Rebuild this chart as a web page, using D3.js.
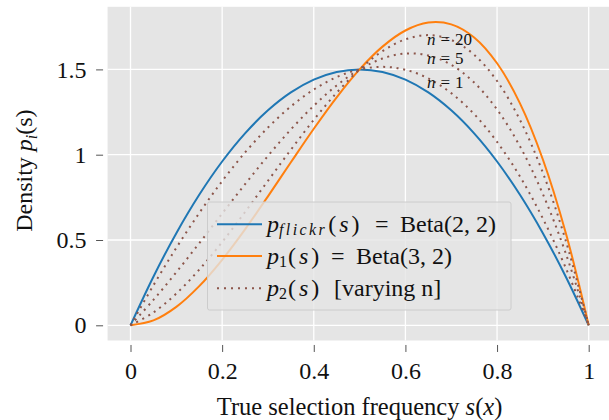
<!DOCTYPE html>
<html>
<head>
<meta charset="utf-8">
<script src="https://cdn.jsdelivr.net/npm/d3@7"></script>
<style>
  body { margin: 0; background: #fff; }
  svg text { font-family: "Liberation Serif", serif; fill: #111; }
</style>
</head>
<body>
<div class="chart"></div>
<script>
// sample positions along s
var sValues = [0, 0.05, 0.1, 0.15, 0.2, 0.25, 0.3, 0.35, 0.4, 0.45, 0.5,
               0.55, 0.6, 0.65, 0.7, 0.75, 0.8, 0.85, 0.9, 0.95, 1];

// p_flickr(s) = Beta(2,2)
var flickr = [0, 0.285, 0.54, 0.765, 0.96, 1.125, 1.26, 1.365, 1.44, 1.485, 1.5,
              1.485, 1.44, 1.365, 1.26, 1.125, 0.96, 0.765, 0.54, 0.285, 0];
// p_1(s) = Beta(3,2)
var p1 = [0, 0.0285, 0.108, 0.2295, 0.384, 0.5625, 0.756, 0.9555, 1.152, 1.3365, 1.5,
          1.6335, 1.728, 1.7745, 1.764, 1.6875, 1.536, 1.3005, 0.972, 0.5415, 0];
// p_2(s) for varying n
var p2n1 = [0, 0.234, 0.454, 0.658, 0.845, 1.013, 1.159, 1.283, 1.382, 1.455, 1.5,
            1.515, 1.498, 1.447, 1.361, 1.238, 1.075, 0.872, 0.626, 0.336, 0];
var p2n5 = [0, 0.149, 0.311, 0.481, 0.655, 0.827, 0.993, 1.148, 1.287, 1.406, 1.5,
            1.564, 1.593, 1.582, 1.527, 1.423, 1.265, 1.049, 0.769, 0.421, 0];
var p2n20 = [0, 0.075, 0.186, 0.326, 0.488, 0.664, 0.847, 1.029, 1.204, 1.363, 1.5,
             1.607, 1.676, 1.701, 1.673, 1.586, 1.432, 1.204, 0.894, 0.495, 0];

var xTicks = [0, 0.2, 0.4, 0.6, 0.8, 1];
var yTicks = [0, 0.5, 1, 1.5];

var nLabels = ["20", "5", "1"];
var nLabelY = [1.68, 1.565, 1.425];
var nLabelX = 0.647;

var width = 609, height = 420;

var x = d3.scaleLinear().domain([0, 1]).range([130.5, 588.7]);
var y = d3.scaleLinear().domain([0, 1.5]).range([325.3, 69.4]);

var svg = d3.select(".chart").append("svg")
    .attr("width", width)
    .attr("height", height);

// panel background
var x0 = x(-0.05), x1 = x(1.05), y0 = y(-0.089), y1 = y(1.867);
svg.append("rect")
    .attr("x", x0).attr("y", y1)
    .attr("width", x1 - x0).attr("height", y0 - y1)
    .attr("fill", "#e5e5e5");

// grid
svg.selectAll(".vgrid").data(xTicks).enter().append("line")
    .attr("x1", function (d) { return x(d); }).attr("x2", function (d) { return x(d); })
    .attr("y1", y1).attr("y2", y0)
    .attr("stroke", "#fff").attr("stroke-width", 1.3);
svg.selectAll(".hgrid").data(yTicks).enter().append("line")
    .attr("y1", function (d) { return y(d); }).attr("y2", function (d) { return y(d); })
    .attr("x1", x0).attr("x2", x1)
    .attr("stroke", "#fff").attr("stroke-width", 1.3);

// axes
var xAxis = svg.append("g")
    .attr("transform", "translate(0," + (y0 + 4.5) + ")")
    .call(d3.axisBottom(x).tickValues(xTicks).tickSize(7).tickPadding(10)
        .tickFormat(function (d) { return d.toString(); }));
var yAxis = svg.append("g")
    .attr("transform", "translate(" + (x0 - 4.5) + ",0)")
    .call(d3.axisLeft(y).tickValues(yTicks).tickSize(7).tickPadding(9.5)
        .tickFormat(function (d) { return d.toString(); }));
[xAxis, yAxis].forEach(function (g) {
    g.attr("font-family", null);
    g.select(".domain").remove();
    g.selectAll(".tick line").attr("stroke", "#555");
    g.selectAll(".tick text")
        .style("font-size", "24px").attr("fill", "#111");
});

// curves
var line = d3.line()
    .x(function (d, i) { return x(sValues[i]); })
    .y(function (d) { return y(d); })
    .curve(d3.curveCatmullRom.alpha(0.5));

svg.append("path").datum(flickr).attr("d", line)
    .attr("fill", "none").attr("stroke", "#1f77b4").attr("stroke-width", 2);
svg.append("path").datum(p1).attr("d", line)
    .attr("fill", "none").attr("stroke", "#ff7f0e").attr("stroke-width", 2);
[p2n1, p2n5, p2n20].forEach(function (s) {
    svg.append("path").datum(s).attr("d", line)
        .attr("fill", "none").attr("stroke", "#8c564b").attr("stroke-width", 2)
        .attr("stroke-dasharray", "2,4.7");
});

// n labels
nLabels.forEach(function (t, i) {
    var txt = svg.append("text")
        .attr("x", x(nLabelX)).attr("y", y(nLabelY[i]))
        .attr("dominant-baseline", "central")
        .style("font-size", "17px");
    txt.append("tspan").attr("font-style", "italic").text("n");
    txt.append("tspan").attr("dx", 5).text("=");
    txt.append("tspan").attr("dx", 5).text(t);
});

// legend
var lg = svg.append("g");
lg.append("rect")
    .attr("x", 207.5).attr("y", 202).attr("width", 303.5).attr("height", 108)
    .attr("rx", 2)
    .attr("fill", "#e5e5e5").attr("fill-opacity", 0.8)
    .attr("stroke", "#cccccc").attr("stroke-width", 1);

var rows = [
    { color: "#1f77b4", dash: null, y: 224.3 },
    { color: "#ff7f0e", dash: null, y: 256 },
    { color: "#8c564b", dash: "2,5", y: 288.3 }
];
rows.forEach(function (r) {
    lg.append("line")
        .attr("x1", 217).attr("x2", 262).attr("y1", r.y).attr("y2", r.y)
        .attr("stroke", r.color).attr("stroke-width", 2)
        .attr("stroke-dasharray", r.dash);
});

function legendText(yPos) {
    return lg.append("text").attr("y", yPos)
        .attr("dominant-baseline", "central").style("font-size", "24px");
}
function mathStart(t, sub, subItalic, subSpacing) {
    t.append("tspan").attr("x", 267).attr("font-style", "italic").text("p");
    t.append("tspan").attr("x", 279).attr("dy", 5)
        .attr("font-style", subItalic ? "italic" : null)
        .attr("font-size", "16px").attr("letter-spacing", subSpacing)
        .text(sub);
    t.append("tspan").attr("dy", -5).attr("dx", 1).text("(");
    t.append("tspan").attr("dx", 3).attr("font-style", "italic").text("s");
    t.append("tspan").attr("dx", 3).text(")");
}
var t1 = legendText(rows[0].y);
mathStart(t1, "flickr", true, "2.4px");
t1.append("tspan").attr("x", 375).text("=");
t1.append("tspan").attr("x", 400).text("Beta(2, 2)");

var t2 = legendText(rows[1].y);
mathStart(t2, "1", false, null);
t2.append("tspan").attr("x", 331).text("=");
t2.append("tspan").attr("x", 356).text("Beta(3, 2)");

var t3 = legendText(rows[2].y);
mathStart(t3, "2", false, null);
t3.append("tspan").attr("x", 334).text("[varying n]");

// axis labels
var xl = svg.append("text")
    .attr("x", (x0 + x1) / 2).attr("y", 415)
    .attr("text-anchor", "middle").style("font-size", "24.5px");
xl.append("tspan").text("True selection frequency ");
xl.append("tspan").attr("font-style", "italic").text("s");
xl.append("tspan").text("(");
xl.append("tspan").attr("font-style", "italic").text("x");
xl.append("tspan").text(")");

var yl = svg.append("text")
    .attr("transform", "translate(32," + ((y0 + y1) / 2 - 3) + ") rotate(-90)")
    .attr("text-anchor", "middle").style("font-size", "24px");
yl.append("tspan").text("Density ");
yl.append("tspan").attr("font-style", "italic").text("p");
yl.append("tspan").attr("font-style", "italic").attr("font-size", "16px").attr("dy", 5).text("i");
yl.append("tspan").attr("dy", -5).text("(s)");
</script>
</body>
</html>
